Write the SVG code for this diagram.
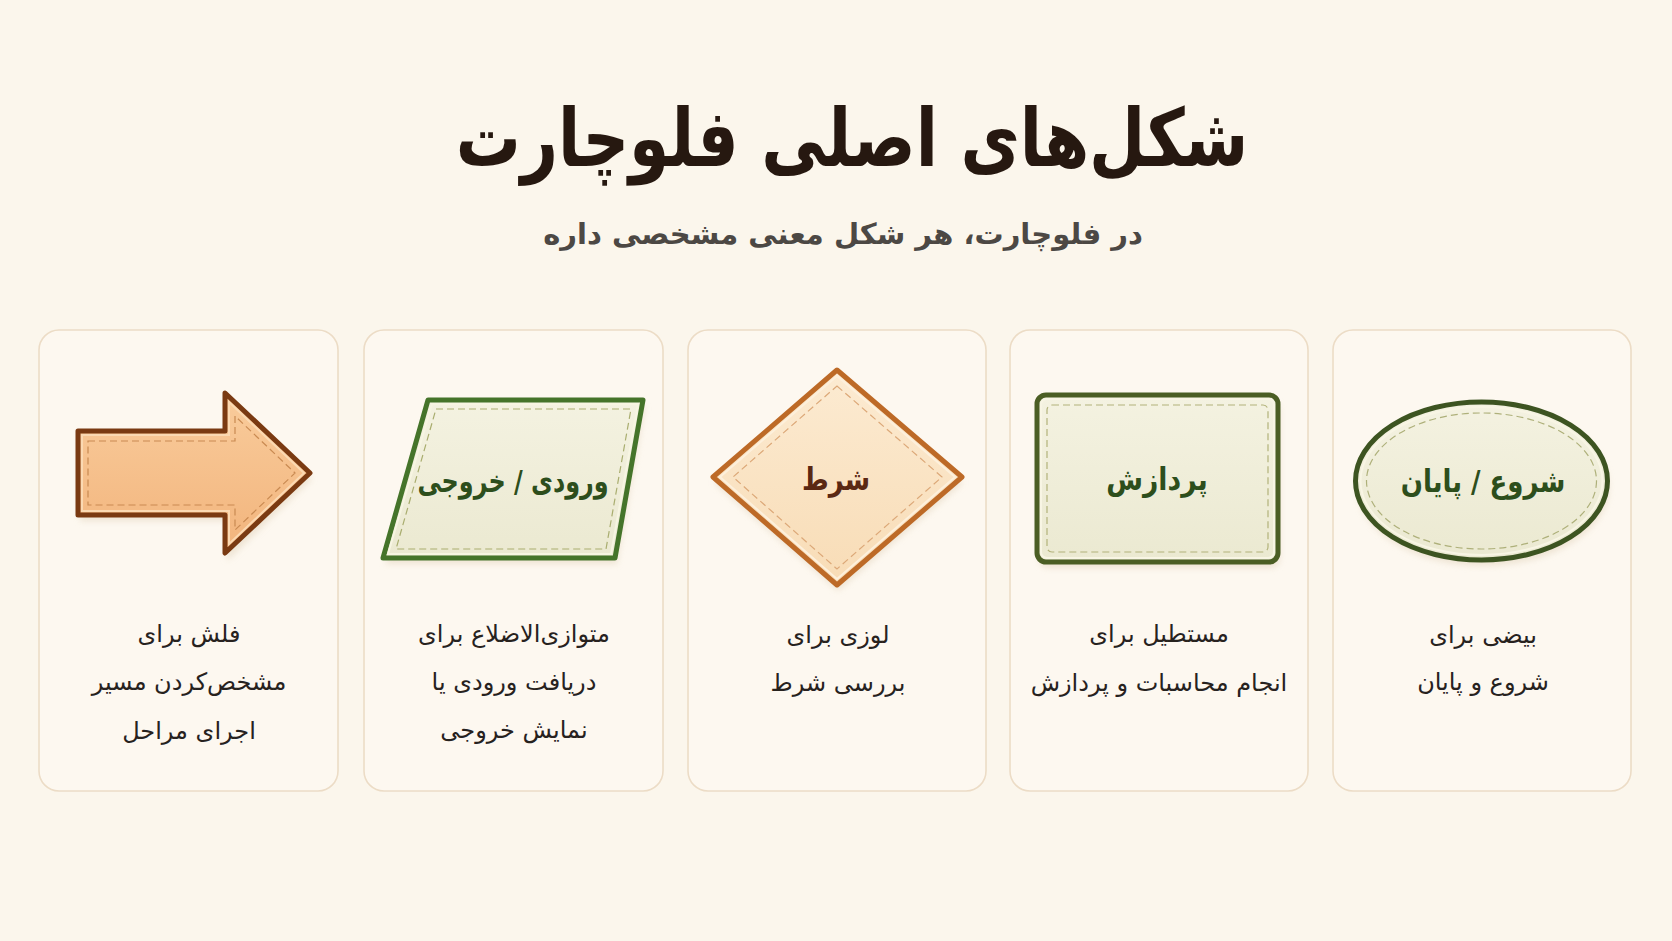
<svg xmlns="http://www.w3.org/2000/svg" width="1672" height="941" viewBox="0 0 1672 941">
<defs>
<style>
.bg{fill:#fbf6ec}
.card{fill:#fdf8f0;stroke:#ecdcc6;stroke-width:1.6}
.ar{font-family:"DejaVu Sans","Noto Sans",sans-serif;direction:rtl}
.title{font-size:80px;font-weight:bold;fill:#261810}
.sub{font-size:29px;font-weight:bold;fill:#4c4844}
.desc{font-size:24px;fill:#27221e}
.lbl{font-size:31px;font-weight:bold}
.shadow{fill:#e8dcc8;opacity:0.7}
.dash{fill:none;stroke-width:1.2;stroke-dasharray:7 4}
</style>
<filter id="blur" x="-20%" y="-20%" width="140%" height="140%"><feGaussianBlur stdDeviation="3"/></filter>
<linearGradient id="peach" x1="0" y1="0" x2="0" y2="1"><stop offset="0" stop-color="#f9cc9c"/><stop offset="1" stop-color="#f2b47c"/></linearGradient>
<linearGradient id="peachL" x1="0" y1="0" x2="0" y2="1"><stop offset="0" stop-color="#fcebd2"/><stop offset="1" stop-color="#f8dcb6"/></linearGradient>
<linearGradient id="cream" x1="0" y1="0" x2="0" y2="1"><stop offset="0" stop-color="#f4f2e1"/><stop offset="1" stop-color="#ebe9d1"/></linearGradient>
</defs>
<rect class="bg" x="0" y="0" width="1672" height="941"/>

<g id="header">
<text class="ar title" transform="translate(852,166) scale(0.81,1)" x="0" y="0" text-anchor="middle">شکل‌های اصلی فلوچارت</text>
<text class="ar sub" x="843" y="244" text-anchor="middle">در فلوچارت، هر شکل معنی مشخصی داره</text>
</g>

<g id="connectors"></g>

<g id="card-arrow">
<rect class="card" x="39" y="330" width="299" height="461" rx="20"/>
<polygon class="shadow" filter="url(#blur)" points="80,437 227,437 227,399 312,479 227,561 227,521 80,521"/>
<polygon points="78,431 225,431 225,393 310,473 225,553 225,515 78,515" fill="url(#peach)" stroke="#7a3a12" stroke-width="5" stroke-linejoin="round"/>
<polygon points="82,435 229,435 229,402 304,473 229,544 229,511 82,511" fill="none" stroke="#fbd9b2" stroke-width="2"/>
<polygon class="dash" points="88,441 235,441 235,416 295,473 235,530 235,505 88,505" stroke="#c98a52"/>
<text class="ar desc" x="189" y="642" text-anchor="middle">فلش برای</text>
<text class="ar desc" x="189" y="690" text-anchor="middle">مشخص‌کردن مسیر</text>
<text class="ar desc" x="189" y="739" text-anchor="middle">اجرای مراحل</text>
</g>

<g id="card-io">
<rect class="card" x="364" y="330" width="299" height="461" rx="20"/>
<polygon class="shadow" filter="url(#blur)" points="430,406 645,406 617,564 385,564"/>
<polygon points="428,400 643,400 615,558 383,558" fill="url(#cream)" stroke="#45742a" stroke-width="5" stroke-linejoin="round"/>
<polygon points="432,404 638,404 611,554 388,554" fill="none" stroke="#f7f5e2" stroke-width="2"/>
<polygon class="dash" points="436,409 631,409 606,549 396,549" stroke="#a9ad6f"/>
<text class="ar lbl" transform="translate(513,492) scale(0.77,1)" x="0" y="0" text-anchor="middle" fill="#2d4e1c">ورودی / خروجی</text>
<text class="ar desc" x="514" y="642" text-anchor="middle">متوازی‌الاضلاع برای</text>
<text class="ar desc" x="514" y="690" text-anchor="middle">دریافت ورودی یا</text>
<text class="ar desc" x="514" y="738" text-anchor="middle">نمایش خروجی</text>
</g>

<g id="card-decision">
<rect class="card" x="688" y="330" width="298" height="461" rx="20"/>
<polygon class="shadow" filter="url(#blur)" points="838,376 963,483 838,591 714,483"/>
<polygon points="837,370 962,477 837,585 713,477" fill="url(#peachL)" stroke="#bd6a27" stroke-width="5" stroke-linejoin="round"/>
<polygon points="837,376 955,477 837,579 720,477" fill="none" stroke="#fdf0dc" stroke-width="2"/>
<polygon class="dash" points="837,386 942,477 837,569 733,477" stroke="#dca878"/>
<text class="ar lbl" transform="translate(836,490) scale(0.83,1)" x="0" y="0" text-anchor="middle" fill="#5a2813">شرط</text>
<text class="ar desc" x="838" y="643" text-anchor="middle">لوزی برای</text>
<text class="ar desc" x="838" y="691" text-anchor="middle">بررسی شرط</text>
</g>

<g id="card-process">
<rect class="card" x="1010" y="330" width="298" height="461" rx="20"/>
<rect class="shadow" filter="url(#blur)" x="1039" y="401" width="241" height="167" rx="9"/>
<rect x="1037" y="395" width="241" height="167" rx="9" fill="url(#cream)" stroke="#4b5e24" stroke-width="5"/>
<rect x="1041" y="399" width="233" height="159" rx="6" fill="none" stroke="#f8f5e4" stroke-width="2"/>
<rect class="dash" x="1047" y="405" width="221" height="147" rx="5" stroke="#b2b27a"/>
<text class="ar lbl" transform="translate(1157,490) scale(0.86,1)" x="0" y="0" text-anchor="middle" fill="#2d4e1c">پردازش</text>
<text class="ar desc" x="1159" y="642" text-anchor="middle">مستطیل برای</text>
<text class="ar desc" x="1159" y="691" text-anchor="middle">انجام محاسبات و پردازش</text>
</g>

<g id="card-terminal">
<rect class="card" x="1333" y="330" width="298" height="461" rx="20"/>
<ellipse class="shadow" filter="url(#blur)" cx="1483" cy="487" rx="126" ry="79"/>
<ellipse cx="1481.5" cy="481" rx="126" ry="79" fill="url(#cream)" stroke="#3d5421" stroke-width="5"/>
<ellipse cx="1481.5" cy="481" rx="121" ry="74" fill="none" stroke="#f8f5e4" stroke-width="2"/>
<ellipse class="dash" cx="1481.5" cy="481" rx="115" ry="68" stroke="#aeb07a"/>
<text class="ar lbl" transform="translate(1483,492) scale(0.84,1)" x="0" y="0" text-anchor="middle" fill="#2d4e1c">شروع / پایان</text>
<text class="ar desc" x="1483" y="643" text-anchor="middle">بیضی برای</text>
<text class="ar desc" x="1483" y="690" text-anchor="middle">شروع و پایان</text>
</g>
</svg>
